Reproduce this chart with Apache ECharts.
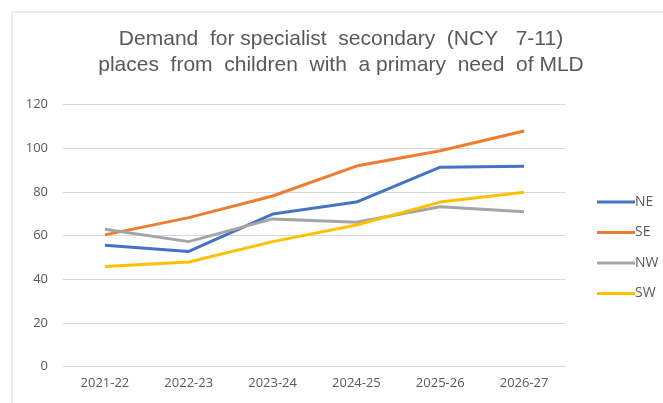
<!DOCTYPE html>
<html>
<head>
<meta charset="utf-8">
<script src="https://cdn.jsdelivr.net/npm/echarts@6/dist/echarts.min.js"></script>
<style>
  html, body { margin: 0; padding: 0; background: #fff; }
  #main { width: 663px; height: 403px; }
</style>
</head>
<body>
<div id="main"></div>
<script>
// data
const years = ['2021-22', '2022-23', '2023-24', '2024-25', '2025-26', '2026-27']
const ne = [55.5, 52.7, 69.8, 75.3, 91.3, 91.7]
const se = [60.3, 68.2, 78.1, 91.8, 98.8, 107.9]
const nw = [62.9, 57.2, 67.6, 66.1, 73.2, 70.9]
const sw = [45.8, 47.9, 57.2, 64.8, 75.3, 79.8]
const yTicks = [0, 20, 40, 60, 80, 100, 120]

const chart = echarts.init(document.getElementById('main'))

const line = (name, data, color) => ({
  name,
  type: 'line',
  data,
  symbol: 'none',
  lineStyle: { width: 3, color },
  itemStyle: { color },
  animation: false
})

const option = {
  backgroundColor: '#fff',
  title: {
    text: 'Demand  for specialist  secondary  (NCY   7-11)\nplaces  from  children  with  a primary  need  of MLD',
    left: 336,
    textAlign: 'center',
    top: 21,
    textStyle: {
      fontFamily: 'Liberation Sans',
      fontWeight: 'normal',
      fontSize: 21,
      lineHeight: 26,
      color: '#595959'
    }
  },
  legend: {
    orient: 'vertical',
    left: 592,
    top: 190,
    itemWidth: 38,
    itemHeight: 14,
    itemGap: 16.5,
    icon: 'path://M0,5.5h38v3h-38z',
    textStyle: {
      fontFamily: 'Open Sans',
      fontSize: 14,
      color: '#595959',
      padding: [0, 0, 0, -5]
    },
    data: ['NE', 'SE', 'NW', 'SW']
  },
  grid: { left: 63, right: 97, top: 104.5, bottom: 36.5 },
  xAxis: {
    type: 'category',
    data: years,
    boundaryGap: true,
    axisLine: { show: false },
    axisTick: { show: false },
    axisLabel: {
      fontFamily: 'Open Sans',
      fontSize: 13,
      color: '#595959',
      margin: 10
    }
  },
  yAxis: {
    type: 'value',
    min: yTicks[0],
    max: yTicks[yTicks.length - 1],
    interval: 20,
    axisLine: { show: false },
    axisTick: { show: false },
    splitLine: { lineStyle: { color: '#d9d9d9', width: 1 } },
    axisLabel: {
      fontFamily: 'Open Sans',
      fontSize: 13,
      color: '#595959',
      margin: 15
    }
  },
  graphic: [{
    type: 'rect',
    shape: { x: 12, y: 12, width: 700, height: 500 },
    style: { fill: 'none', stroke: '#d9d9d9', lineWidth: 1 },
    silent: true
  }],
  series: [
    line('NE', ne, '#4472C4'),
    line('SE', se, '#ED7D31'),
    line('NW', nw, '#A5A5A5'),
    line('SW', sw, '#FFC000')
  ]
}

chart.setOption(option)
</script>
</body>
</html>
